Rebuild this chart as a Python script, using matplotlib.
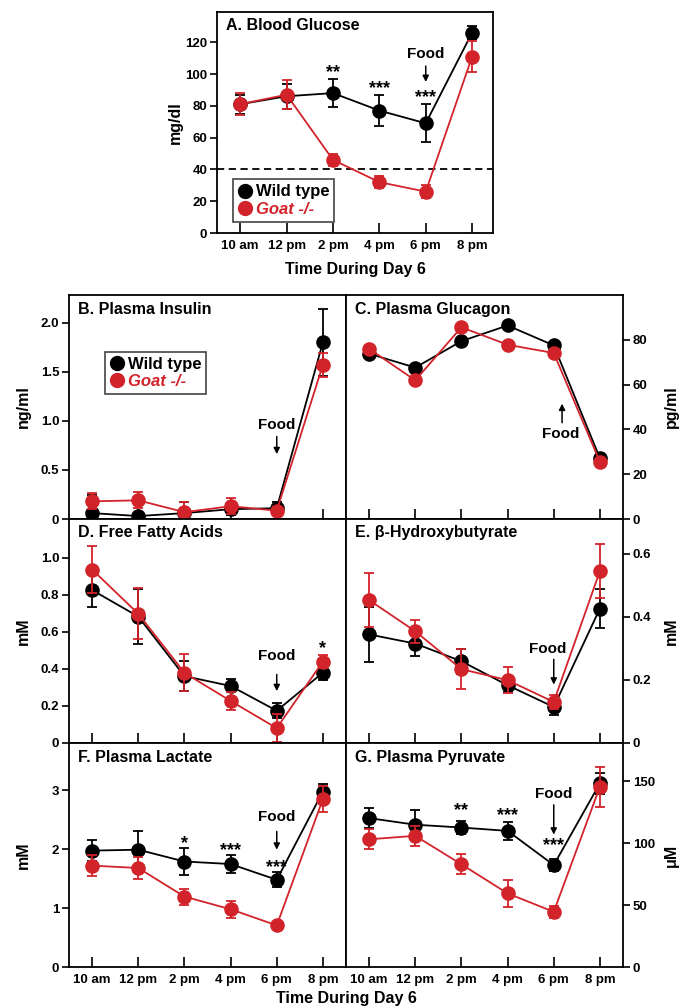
import matplotlib
matplotlib.use("Agg")
import matplotlib.pyplot as plt
from matplotlib.lines import Line2D

plt.rcParams['font.family'] = ['Liberation Sans', 'DejaVu Sans']
plt.rcParams['font.weight'] = 'bold'

RED = '#d2232a'
times = ["10 am", "12 pm", "2 pm", "4 pm", "6 pm", "8 pm"]

# A. Blood glucose (mg/dl)
glu_wt = [81, 86, 88, 77, 69, 126]
glu_wt_err = [6, 8, 9, 10, 12, 4]
glu_ko = [81, 87, 46, 32, 26, 111]
glu_ko_err = [7, 9, 4, 4, 4, 10]

# B. Plasma insulin (ng/ml)
ins_wt = [0.06, 0.03, 0.06, 0.10, 0.11, 1.80]
ins_wt_err = [0.18, 0.03, 0.11, 0.06, 0.06, 0.34]
ins_ko = [0.18, 0.19, 0.07, 0.13, 0.085, 1.57]
ins_ko_err = [0.08, 0.08, 0.10, 0.08, 0.04, 0.12]

# C. Plasma glucagon (pg/ml)
gcg_wt = [73.8, 67.6, 79.4, 86.4, 77.5, 27.1]
gcg_ko = [76.0, 61.9, 85.6, 77.8, 74.1, 25.5]

# D. Free fatty acids (mM)
ffa_wt = [0.826, 0.683, 0.361, 0.308, 0.174, 0.38]
ffa_wt_err = [0.093, 0.15, 0.08, 0.035, 0.04, 0.04]
ffa_ko = [0.937, 0.698, 0.379, 0.227, 0.08, 0.44]
ffa_ko_err = [0.125, 0.137, 0.10, 0.05, 0.075, 0.035]

# E. beta-hydroxybutyrate (mM)
bhb_wt = [0.344, 0.315, 0.259, 0.183, 0.114, 0.426]
bhb_wt_err = [0.087, 0.04, 0.04, 0.021, 0.025, 0.063]
bhb_ko = [0.453, 0.354, 0.234, 0.199, 0.13, 0.545]
bhb_ko_err = [0.085, 0.037, 0.064, 0.042, 0.022, 0.085]

# F. Plasma lactate (mM)
lac_wt = [1.975, 1.99, 1.79, 1.747, 1.48, 2.977]
lac_wt_err = [0.18, 0.31, 0.23, 0.15, 0.125, 0.135]
lac_ko = [1.72, 1.68, 1.195, 0.98, 0.706, 2.85]
lac_ko_err = [0.18, 0.19, 0.135, 0.14, 0.03, 0.225]

# G. Plasma pyruvate (uM)
pyr_wt = [120.3, 115, 112.7, 110, 82.4, 148.4]
pyr_wt_err = [8, 12, 5.5, 7.5, 5, 8.4]
pyr_ko = [103.2, 106, 83, 59.5, 44.6, 145.7]
pyr_ko_err = [8, 8, 8, 11, 5, 16]

x = list(range(len(times)))

fig = plt.figure(figsize=(6.81, 10.07), dpi=100)


def series(ax, wt, ko, wt_err=None, ko_err=None):
    ax.errorbar(x, wt, yerr=wt_err, color='black', ecolor='black', marker='o',
                markersize=9.5, lw=1.3, elinewidth=1.3, capsize=3.5, capthick=1.3,
                zorder=3)
    ax.errorbar(x, ko, yerr=ko_err, color=RED, ecolor=RED, marker='o',
                markersize=9.5, lw=1.3, elinewidth=1.3, capsize=3.5, capthick=1.3,
                zorder=4)


def style(ax, ylim, yticks, ylabels, right=False, xlabels=False, xlim=(-0.5, 5.5)):
    ax.set_xlim(*xlim)
    ax.set_ylim(*ylim)
    ax.set_xticks(x)
    if xlabels:
        ax.set_xticklabels(times, fontsize=9.5, fontweight='bold')
    else:
        ax.set_xticklabels([])
    ax.set_yticks(yticks)
    ax.set_yticklabels(ylabels, fontsize=9.5, fontweight='bold')
    ax.tick_params(axis='x', direction='in', length=7, width=1.2, pad=5)
    ax.tick_params(axis='y', direction='out', length=5, width=1.2, pad=2)
    if right:
        ax.yaxis.tick_right()
        ax.yaxis.set_label_position('right')
    for s in ax.spines.values():
        s.set_linewidth(1.3)


def title(ax, txt, h=224):
    ax.text(9 / 277, 1 - 14 / h, txt, transform=ax.transAxes, fontsize=11.5,
            fontweight='bold', va='center', ha='left')


def food(ax, xpos, ytext, y0, y1, up=False):
    ax.text(xpos, ytext, "Food", fontsize=11, fontweight='bold', ha='center',
            va='top' if up else 'bottom')
    ax.annotate('', xy=(xpos, y1), xytext=(xpos, y0),
                arrowprops=dict(arrowstyle='-|>', color='black', lw=1.1,
                                mutation_scale=9, shrinkA=0, shrinkB=0))


def stars(ax, xpos, ypos, txt):
    ax.text(xpos, ypos, txt, fontsize=13, fontweight='bold', ha='center', va='center')


def legend(ax, **kw):
    handles = [Line2D([], [], color='black', marker='o', markersize=10, ls='none'),
               Line2D([], [], color=RED, marker='o', markersize=10, ls='none')]
    leg = ax.legend(handles, ["Wild type", "Goat -/-"], fancybox=False,
                    edgecolor='#444444', framealpha=1, prop={'size': 12, 'weight': 'bold'},
                    handlelength=0.8, handletextpad=0.25, borderpad=0.3,
                    labelspacing=0.15, **kw)
    leg.get_frame().set_linewidth(1.2)
    t = leg.get_texts()
    t[1].set_color(RED)
    t[1].set_style('italic')


W = 277 / 681
H = 224 / 1007
L = 69 / 681
rows = [0.4846, 0.2622, 0.0397]

# Panel A
axA = fig.add_axes([217 / 681, 774 / 1007, 276 / 681, 221 / 1007])
axA.axhline(40, color='black', lw=1.3, ls=(0, (4, 2.5)), zorder=1)
series(axA, glu_wt, glu_ko, glu_wt_err, glu_ko_err)
style(axA, (0, 139), range(0, 121, 20), [str(v) for v in range(0, 121, 20)],
      xlabels=True, xlim=(-0.5, 5.45))
axA.set_xlabel("Time During Day 6", fontsize=11.5, fontweight='bold', labelpad=7)
axA.set_ylabel("mg/dl", fontsize=11.5, fontweight='bold')
axA.yaxis.set_label_coords(-0.123, 0.5)
title(axA, "A. Blood Glucose", h=221)
stars(axA, 2, 101, "**")
stars(axA, 3, 91, "***")
stars(axA, 4, 85, "***")
food(axA, 4, 108, 105, 95)
legend(axA, loc='lower left', bbox_to_anchor=(0.058, 0.05), borderaxespad=0)

# Panel B
axB = fig.add_axes([L, rows[0], W, H])
series(axB, ins_wt, ins_ko, ins_wt_err, ins_ko_err)
style(axB, (0, 2.28), [0, 0.5, 1.0, 1.5, 2.0], ["0", "0.5", "1.0", "1.5", "2.0"])
axB.set_ylabel("ng/ml", fontsize=11.5, fontweight='bold')
axB.yaxis.set_label_coords(-0.137, 0.5)
title(axB, "B. Plasma Insulin")
food(axB, 4, 0.89, 0.84, 0.66)
legend(axB, loc='upper left', bbox_to_anchor=(0.13, 0.747), borderaxespad=0)

# Panel C
axC = fig.add_axes([L + W, rows[0], W, H])
series(axC, gcg_wt, gcg_ko)
style(axC, (0, 100), range(0, 81, 20), [str(v) for v in range(0, 81, 20)], right=True)
axC.set_ylabel("pg/ml", fontsize=11.5, fontweight='bold')
axC.yaxis.set_label_coords(1.148, 0.5)
title(axC, "C. Plasma Glucagon")
axC.text(4.16, 41, "Food", fontsize=11, fontweight='bold', ha='center', va='top')
axC.annotate('', xy=(4.18, 51.5), xytext=(4.18, 43),
             arrowprops=dict(arrowstyle='-|>', color='black', lw=1.1,
                             mutation_scale=9, shrinkA=0, shrinkB=0))

# Panel D
axD = fig.add_axes([L, rows[1], W, H])
series(axD, ffa_wt, ffa_ko, ffa_wt_err, ffa_ko_err)
style(axD, (0, 1.21), [0, 0.2, 0.4, 0.6, 0.8, 1.0], ["0", "0.2", "0.4", "0.6", "0.8", "1.0"])
axD.set_ylabel("mM", fontsize=11.5, fontweight='bold')
axD.yaxis.set_label_coords(-0.137, 0.5)
title(axD, "D. Free Fatty Acids")
stars(axD, 5, 0.51, "*")
food(axD, 4, 0.43, 0.37, 0.28)

# Panel E
axE = fig.add_axes([L + W, rows[1], W, H])
series(axE, bhb_wt, bhb_ko, bhb_wt_err, bhb_ko_err)
style(axE, (0, 0.71), [0, 0.2, 0.4, 0.6], ["0", "0.2", "0.4", "0.6"], right=True)
axE.set_ylabel("mM", fontsize=11.5, fontweight='bold')
axE.yaxis.set_label_coords(1.148, 0.5)
title(axE, "E. β-Hydroxybutyrate")
axE.text(3.87, 0.275, "Food", fontsize=11, fontweight='bold', ha='center', va='bottom')
axE.annotate('', xy=(4, 0.185), xytext=(4, 0.265),
             arrowprops=dict(arrowstyle='-|>', color='black', lw=1.1,
                             mutation_scale=9, shrinkA=0, shrinkB=0))

# Panel F
axF = fig.add_axes([L, rows[2], W, H])
series(axF, lac_wt, lac_ko, lac_wt_err, lac_ko_err)
style(axF, (0, 3.8), [0, 1, 2, 3], ["0", "1", "2", "3"], xlabels=True)
axF.set_ylabel("mM", fontsize=11.5, fontweight='bold')
axF.yaxis.set_label_coords(-0.137, 0.5)
title(axF, "F. Plasma Lactate")
stars(axF, 2, 2.1, "*")
stars(axF, 3, 1.98, "***")
stars(axF, 4, 1.69, "***")
food(axF, 4, 2.42, 2.3, 1.99)

# Panel G
axG = fig.add_axes([L + W, rows[2], W, H])
series(axG, pyr_wt, pyr_ko, pyr_wt_err, pyr_ko_err)
style(axG, (0, 181), [0, 50, 100, 150], ["0", "50", "100", "150"], right=True, xlabels=True)
axG.set_ylabel("μM", fontsize=11.5, fontweight='bold')
axG.yaxis.set_label_coords(1.148, 0.5)
title(axG, "G. Plasma Pyruvate")
stars(axG, 2, 126, "**")
stars(axG, 3, 122, "***")
stars(axG, 4, 98, "***")
food(axG, 4, 134, 131, 107)

fig.text(346.7 / 681, 8 / 1007, "Time During Day 6", fontsize=11.5, fontweight='bold',
         ha='center', va='center')

fig.savefig("out.png", dpi=100)
